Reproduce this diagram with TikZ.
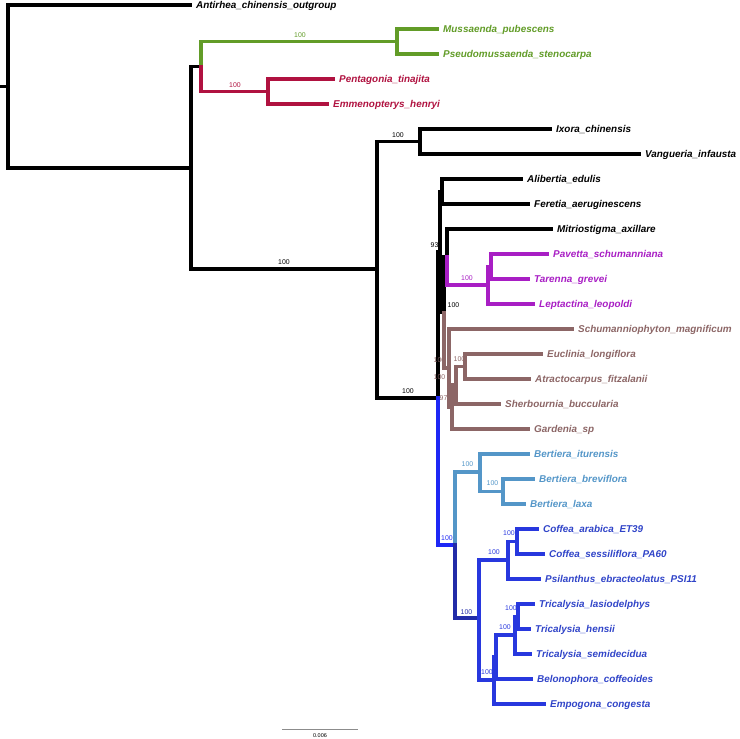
\documentclass[tikz,border=0pt]{standalone}
\usepackage{fontspec}
\setsansfont{Liberation Sans}
\usepackage{tikz}
\usetikzlibrary{positioning}
\definecolor{treeink}{RGB}{0,0,0}
\definecolor{cladegreen}{RGB}{98,156,40}
\definecolor{cladered}{RGB}{176,18,64}
\definecolor{cladepurple}{RGB}{168,30,196}
\definecolor{cladebrown}{RGB}{140,102,102}
\definecolor{cladesky}{RGB}{84,150,200}
\definecolor{cladeblue}{RGB}{40,56,222}
\definecolor{cladenavy}{RGB}{34,44,168}
\definecolor{cladebright}{RGB}{30,40,245}
\definecolor{coffeetext}{RGB}{48,68,200}
\definecolor{bargrey}{RGB}{140,140,140}

\begin{document}
\begin{tikzpicture}[x=1pt,y=-1pt,
  br/.style={line width=3.1pt,line cap=rect,#1}, br/.default=treeink,
  taxon/.style={anchor=west,inner xsep=6pt,inner ysep=0pt,text height=7.1pt,text depth=0pt,
    font=\sffamily\bfseries\itshape\fontsize{9.9}{11}\selectfont,text=#1},
  supp/.style={inner sep=0pt,font=\sffamily\fontsize{6.9}{8}\selectfont,text=#1}]
\useasboundingbox (0,0) rectangle (740,739);
\coordinate (stub) at (0,86.5); \coordinate (root) at (8,86.5);
\coordinate (nA) at (191,168); \coordinate (nB) at (201,66.5);
\coordinate (nGr) at (397,41.5); \coordinate (nRd) at (268,91.5);
\coordinate (nC) at (377,269); \coordinate (nD) at (420,141.5); \coordinate (nE) at (438,398);
\coordinate (nO) at (440,251.5); \coordinate (nF) at (442,191.5); \coordinate (nN) at (444,312.5);
\coordinate (nM) at (447,257); \coordinate (nPb) at (488,285); \coordinate (nPa) at (491,266.5);
\coordinate (nG4) at (449,368); \coordinate (nG3) at (452,407); \coordinate (nG2) at (456,385);
\coordinate (nG1) at (465,366.5);
\coordinate (nCB) at (455,545); \coordinate (nBe) at (480,472); \coordinate (nBe2) at (503,491.5);
\coordinate (nCo) at (479,618); \coordinate (nCf) at (508,560); \coordinate (nQ) at (517,541.5);
\coordinate (nX) at (494,680); \coordinate (nY) at (496,656.5); \coordinate (nT) at (515,635);
\coordinate (nU) at (518,616.5);
\node[taxon=treeink] (antirhea) at (190,5) {Antirhea\_chinensis\_outgroup};
\node[taxon=cladegreen] (mussaenda) at (437,29) {Mussaenda\_pubescens};
\node[taxon=cladegreen] (pseudomus) at (437,54) {Pseudomussaenda\_stenocarpa};
\node[taxon=cladered] (pentagonia) at (333,79) {Pentagonia\_tinajita};
\node[taxon=cladered] (emmeno) at (327,104) {Emmenopterys\_henryi};
\node[taxon=treeink] (ixora) at (550,129) {Ixora\_chinensis};
\node[taxon=treeink] (vangueria) at (639,154) {Vangueria\_infausta};
\node[taxon=treeink] (alibertia) at (521,179) {Alibertia\_edulis};
\node[taxon=treeink] (feretia) at (528,204) {Feretia\_aeruginescens};
\node[taxon=treeink] (mitrio) at (551,229) {Mitriostigma\_axillare};
\node[taxon=cladepurple] (pavetta) at (547,254) {Pavetta\_schumanniana};
\node[taxon=cladepurple] (tarenna) at (528,279) {Tarenna\_grevei};
\node[taxon=cladepurple] (leptactina) at (533,304) {Leptactina\_leopoldi};
\node[taxon=cladebrown] (schum) at (572,329) {Schumanniophyton\_magnificum};
\node[taxon=cladebrown] (euclinia) at (541,354) {Euclinia\_longiflora};
\node[taxon=cladebrown] (atracto) at (529,379) {Atractocarpus\_fitzalanii};
\node[taxon=cladebrown] (sherb) at (499,404) {Sherbournia\_buccularia};
\node[taxon=cladebrown] (gardenia) at (528,429) {Gardenia\_sp};
\node[taxon=cladesky] (biturensis) at (528,454) {Bertiera\_iturensis};
\node[taxon=cladesky] (bbrevi) at (533,479) {Bertiera\_breviflora};
\node[taxon=cladesky] (blaxa) at (524,504) {Bertiera\_laxa};
\node[taxon=coffeetext] (carabica) at (537,529) {Coffea\_arabica\_ET39};
\node[taxon=coffeetext] (csessil) at (543,554) {Coffea\_sessiliflora\_PA60};
\node[taxon=coffeetext] (psilanthus) at (539,579) {Psilanthus\_ebracteolatus\_PSI11};
\node[taxon=coffeetext] (tlasio) at (533,604) {Tricalysia\_lasiodelphys};
\node[taxon=coffeetext] (thensii) at (529,629) {Tricalysia\_hensii};
\node[taxon=coffeetext] (tsemi) at (530,654) {Tricalysia\_semidecidua};
\node[taxon=coffeetext] (belono) at (531,679) {Belonophora\_coffeoides};
\node[taxon=coffeetext] (empogona) at (544,704) {Empogona\_congesta};
\draw[br] (stub) -- (root);
\foreach \u/\v in {root/antirhea,root/nA,nA/nB,nA/nC,nC/nD,nD/ixora,nD/vangueria,nC/nE,nE/nO,nO/nF,
  nF/alibertia,nF/feretia,nO/nN,nN/nM,nM/mitrio} \draw[br] (\u) |- (\v);
\foreach \u/\v in {nB/nGr,nGr/mussaenda,nGr/pseudomus} \draw[br=cladegreen] (\u) |- (\v);
\foreach \u/\v in {nB/nRd,nRd/pentagonia,nRd/emmeno} \draw[br=cladered] (\u) |- (\v);
\foreach \u/\v in {nM/nPb,nPb/nPa,nPb/leptactina,nPa/pavetta,nPa/tarenna} \draw[br=cladepurple] (\u) |- (\v);
\foreach \u/\v in {nN/nG4,nG4/schum,nG4/nG3,nG3/nG2,nG3/gardenia,nG2/nG1,nG2/sherb,nG1/euclinia,nG1/atracto}
  \draw[br=cladebrown] (\u) |- (\v);
\draw[br=cladebright] (nE) |- (nCB);
\foreach \u/\v in {nCB/nBe,nBe/biturensis,nBe/nBe2,nBe2/bbrevi,nBe2/blaxa} \draw[br=cladesky] (\u) |- (\v);
\draw[br=cladenavy] (nCB) |- (nCo);
\foreach \u/\v in {nCo/nCf,nCf/nQ,nCf/psilanthus,nQ/carabica,nQ/csessil,nCo/nX,nX/nY,nX/empogona,nY/nT,
  nY/belono,nT/nU,nT/tsemi,nU/tlasio,nU/thensii} \draw[br=cladeblue] (\u) |- (\v);
\node[supp=cladegreen] (sGr) at (300,35) {100};
\node[supp=cladered] (sRd) at (235,85) {100};
\node[supp=treeink] (sC) at (284,262) {100};
\node[supp=treeink] (sD) at (398,135) {100};
\node[supp=treeink] (sE) at (408,391) {100};
\node[supp=treeink] (sO) at (434.5,245) {93};
\node[supp=treeink] (sN) at (453.5,305) {100};
\node[supp=cladepurple] (sPb) at (467,278) {100};
\node[supp=cladebrown] (sG4) at (439.5,360) {100};
\node[supp=cladebrown] (sG2) at (439.5,377) {100};
\node[supp=cladebrown] (sG3) at (443.5,398) {97};
\node[supp=cladebrown] (sG1) at (459.5,359) {100};
\node[supp=cladebright] (sCB) at (447,538) {100};
\node[supp=cladesky] (sBe) at (467.5,464) {100};
\node[supp=cladesky] (sBe2) at (492.5,483) {100};
\node[supp=cladenavy] (sCo) at (466.5,612) {100};
\node[supp=cladeblue] (sCf) at (494,552) {100};
\node[supp=cladeblue] (sQ) at (509,533) {100};
\node[supp=cladeblue] (sX) at (487,672) {100};
\node[supp=cladeblue] (sT) at (505,627) {100};
\node[supp=cladeblue] (sU) at (511,608) {100};
\coordinate (bar0) at (282,729); \coordinate (bar1) at (358,729);
\draw[bargrey,line width=1pt] (bar0) -- (bar1);
\node[inner sep=0pt,font=\sffamily\fontsize{5.5}{6}\selectfont] (barlab) at (320,736) {0.006};
\end{tikzpicture}
\end{document}
